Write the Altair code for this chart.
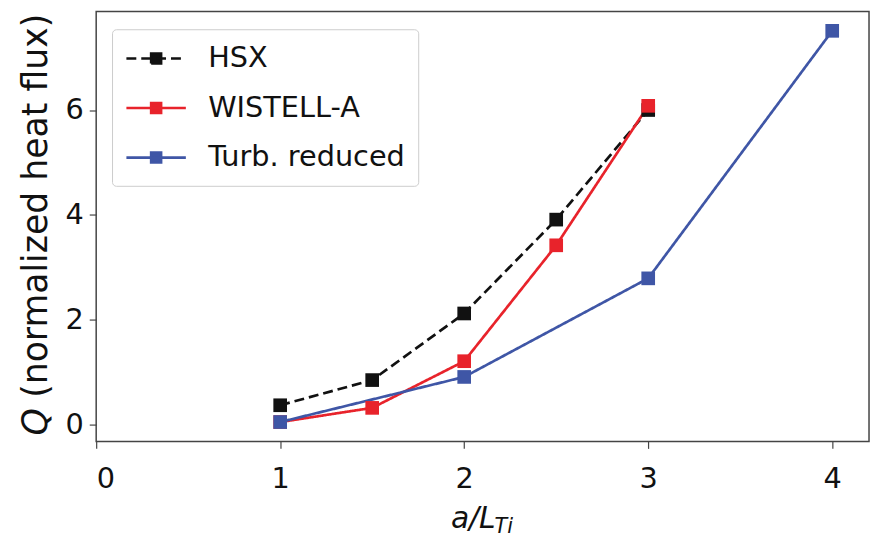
import altair as alt
import pandas as pd

series_names = ["HSX", "WISTELL-A", "Turb. reduced"]
hsx_x = [1.0, 1.5, 2.0, 2.5, 3.0]
hsx_q = [0.37, 0.85, 2.12, 3.91, 6.0]
wis_x = [1.0, 1.5, 2.0, 2.5, 3.0]
wis_q = [0.05, 0.32, 1.21, 3.42, 6.08]
turb_x = [1.0, 2.0, 3.0, 4.0]
turb_q = [0.05, 0.91, 2.79, 7.51]
colors = ["#111111", "#e8232b", "#3f56a6"]
dashes = [[10, 5], [1, 0], [1, 0]]
x_ticks = [0, 1, 2, 3, 4]
y_ticks = [0, 2, 4, 6]

rows = []
for name, xs, qs in [(series_names[0], hsx_x, hsx_q),
                     (series_names[1], wis_x, wis_q),
                     (series_names[2], turb_x, turb_q)]:
    for i, (xv, qv) in enumerate(zip(xs, qs)):
        rows.append({"series": name, "x": xv, "q": qv, "i": i})
df = pd.DataFrame(rows)

FONT = "DejaVu Sans"
# legend glyph: a line with a filled square marker in its middle
sym_path = ("M-1,0H3"
            "M0.667,-0.333H1.333V0.333H0.667Z"
            "M0.667,-0.333H1.333M1.333,-0.333V0.333"
            "M1.333,0.333H0.667M0.667,0.333V-0.333")

legend = alt.Legend(
    title=None, orient="none", legendX=16, legendY=18,
    symbolType=sym_path, symbolSize=900, symbolStrokeWidth=2.7, symbolOpacity=1,
    labelFont=FONT, labelFontSize=29, labelColor="#111", labelOffset=51,
    labelLimit=400,
    padding=13, rowPadding=18,
    strokeColor="#cccccc", fillColor="white", cornerRadius=4,
)

xenc = alt.X("x:Q", scale=alt.Scale(domain=[0, 4.2], nice=False, zero=False),
             axis=alt.Axis(values=x_ticks, title=None, format="d"))
yenc = alt.Y("q:Q", scale=alt.Scale(domain=[-0.32, 7.88], nice=False, zero=False),
             axis=alt.Axis(values=y_ticks, title=None, format="d"))

base = alt.Chart(df)

lines = base.mark_line(strokeWidth=2.7).encode(
    x=xenc, y=yenc,
    stroke=alt.Stroke("series:N", scale=alt.Scale(domain=series_names, range=colors),
                      legend=legend, sort=series_names),
    strokeDash=alt.StrokeDash("series:N", scale=alt.Scale(domain=series_names, range=dashes),
                              legend=legend, sort=series_names),
    order="i:Q",
)
points = base.mark_point(shape="square", filled=True, size=190, opacity=1).encode(
    x=xenc, y=yenc,
    fill=alt.Fill("series:N", scale=alt.Scale(domain=series_names, range=colors),
                  legend=legend, sort=series_names),
)

title_df = pd.DataFrame({"t": [0]})
tbase = alt.Chart(title_df)
y_q = tbase.mark_text(text="Q", font=FONT, fontStyle="italic", fontSize=35,
                      angle=270, align="left", baseline="middle", color="#111").encode(
    x=alt.value(-61), y=alt.value(428))
y_rest = tbase.mark_text(text="(normalized heat flux)", font=FONT, fontSize=35,
                         angle=270, align="left", baseline="middle", color="#111").encode(
    x=alt.value(-61), y=alt.value(390))
x_main = tbase.mark_text(text="a/L", font=FONT, fontStyle="italic", fontSize=30,
                         align="left", baseline="alphabetic", color="#111").encode(
    x=alt.value(358), y=alt.value(521))
x_sub = tbase.mark_text(text="Ti", font=FONT, fontStyle="italic", fontSize=21,
                        align="left", baseline="alphabetic", color="#111").encode(
    x=alt.value(402), y=alt.value(526))

chart = alt.layer(lines, points, y_q, y_rest, x_main, x_sub).properties(
    width=780, height=434,
    autosize=alt.AutoSizeParams(type="none"),
    padding={"left": 89, "top": 1, "right": 2, "bottom": 95},
).configure_view(
    stroke="#444444", strokeWidth=1.5
).configure_axis(
    domain=False, grid=False, ticks=True, tickSize=7, tickColor="#444444",
    tickWidth=1.2, labelFont=FONT, labelFontSize=29, labelColor="#111",
).configure_axisX(
    labelPadding=16
).configure_axisY(
    labelPadding=6
)

chart.save("out.html", embed_options={"renderer": "svg", "actions": False})
